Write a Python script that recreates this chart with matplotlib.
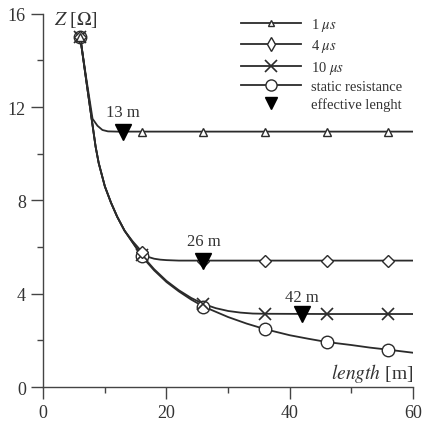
import matplotlib
matplotlib.use("Agg")
import matplotlib.pyplot as plt
from matplotlib.lines import Line2D
from matplotlib.ticker import MultipleLocator

plt.rcParams['font.family'] = ['Liberation Serif', 'DejaVu Serif']
plt.rcParams['mathtext.fontset'] = 'stix'

# ---- data ----
# static resistance curve
static_x = [6, 7, 7.8, 8.5, 9, 10, 11, 12, 13.2, 14.5, 16, 18, 20, 22, 24, 26, 30, 33, 36, 40, 43, 46, 50, 53, 56, 60]
static_y = [15, 13.1, 11.6, 10.3, 9.6, 8.6, 7.9, 7.3, 6.7, 6.2, 5.6, 5.0, 4.5, 4.1, 3.75, 3.45, 3.0, 2.72, 2.48, 2.22, 2.07, 1.93, 1.8, 1.69, 1.6, 1.47]
static_mx = [6, 16, 26, 36, 46, 56]
static_my = [15, 5.6, 3.43, 2.47, 1.93, 1.59]

# 1 us curve
us1_x = [6, 7, 8.0, 8.8, 9.6, 10.5, 12, 16, 26, 36, 46, 56, 60]
us1_y = [15, 13.2, 11.5, 11.2, 11.02, 10.96, 10.95, 10.95, 10.95, 10.95, 10.95, 10.95, 10.95]
us1_mx = [6, 16, 26, 36, 46, 56]
us1_my = [15, 10.95, 10.95, 10.95, 10.95, 10.95]

# 4 us curve
us4_x = [6, 7, 7.8, 8.5, 9, 10, 11, 12, 13.2, 14.5, 16, 17, 18, 19, 20, 22, 26, 36, 46, 56, 60]
us4_y = [15, 13.1, 11.6, 10.3, 9.6, 8.6, 7.9, 7.3, 6.7, 6.25, 5.8, 5.58, 5.5, 5.46, 5.44, 5.42, 5.42, 5.42, 5.42, 5.42, 5.42]
us4_mx = [6, 16, 26, 36, 46, 56]
us4_my = [15, 5.8, 5.42, 5.42, 5.42, 5.42]

# 10 us curve
us10_x = [6, 7, 7.8, 8.5, 9, 10, 11, 12, 13.2, 14.5, 16, 18, 20, 22, 24, 26, 28, 30, 32, 34, 36, 46, 56, 60]
us10_y = [15, 13.1, 11.6, 10.3, 9.6, 8.6, 7.9, 7.3, 6.7, 6.2, 5.65, 5.05, 4.55, 4.15, 3.82, 3.56, 3.38, 3.26, 3.19, 3.15, 3.14, 3.13, 3.13, 3.13]
us10_mx = [6, 16, 26, 36, 46, 56]
us10_my = [15, 5.65, 3.56, 3.13, 3.13, 3.13]

# effective length markers
eff_x = [13, 26, 42]
eff_y = [10.95, 5.42, 3.13]
eff_labels = ['13 m', '26 m', '42 m']
eff_label_y = [11.8, 6.28, 3.86]

legend_labels = [r'1 $\mu s$', r'4 $\mu s$', r'10 $\mu s$', 'static resistance', 'effective lenght']

# ---- figure ----
fig = plt.figure(figsize=(4.24, 4.27), dpi=100)
ax = fig.add_axes([0.102, 0.0913, 0.872, 0.874])

lc = '#2b2b2b'
lw = 1.3

ax.plot(static_x, static_y, color=lc, lw=lw, zorder=2)
ax.plot(us10_x, us10_y, color=lc, lw=lw, zorder=2)
ax.plot(us4_x, us4_y, color=lc, lw=lw, zorder=2)
ax.plot(us1_x, us1_y, color=lc, lw=lw, zorder=2)

mk_static = dict(marker='o', ms=9, mfc='white', mec=lc, mew=1.0, ls='none')
mk_us10 = dict(marker='x', ms=8.5, mec=lc, mew=1.2, ls='none')
mk_us4 = dict(marker='D', ms=6, mfc='white', mec=lc, mew=1.0, ls='none')
mk_us1 = dict(marker='^', ms=6, mfc='white', mec=lc, mew=1.0, ls='none')
mk_eff = dict(marker='v', ms=11, mfc='black', mec='black', ls='none')

ax.plot(static_mx, static_my, zorder=3, **mk_static)
ax.plot(us10_mx, us10_my, zorder=4, **mk_us10)
ax.plot(us4_mx, us4_my, zorder=4, **mk_us4)
ax.plot(us1_mx, us1_my, zorder=4, **mk_us1)
ax.plot(eff_x, eff_y, zorder=5, **mk_eff)

for xv, yv, lab in zip(eff_x, eff_label_y, eff_labels):
    ax.text(xv, yv, lab, ha='center', va='center', fontsize=12, color='#333333')

ax.set_xlim(0, 60)
ax.set_ylim(0, 16)
ax.xaxis.set_major_locator(MultipleLocator(20))
ax.xaxis.set_minor_locator(MultipleLocator(10))
ax.yaxis.set_major_locator(MultipleLocator(4))
ax.yaxis.set_minor_locator(MultipleLocator(2))
for s in ['top', 'right']:
    ax.spines[s].set_visible(False)
for s in ['left', 'bottom']:
    ax.spines[s].set_color('#444444')
    ax.spines[s].set_linewidth(1.0)
ax.tick_params(which='major', direction='out', length=8.5, width=1.0, color='#444444',
               labelsize=13, labelcolor='#333333', pad=4)
ax.tick_params(which='minor', direction='out', length=4.3, width=1.0, color='#444444')

ax.text(0.028, 0.985, r'$Z$ [$\Omega$]', transform=ax.transAxes, fontsize=14,
        ha='left', va='center', color='#333333')
ax.text(1.0, 0.04, r'$length$ [m]', transform=ax.transAxes, fontsize=14,
        ha='right', va='center', color='#333333')

handles = [
    Line2D([], [], color=lc, lw=lw, marker='^', ms=5, mfc='white', mec=lc, mew=1.0),
    Line2D([], [], color=lc, lw=lw, marker='d', ms=7, mfc='white', mec=lc, mew=1.0),
    Line2D([], [], color=lc, lw=lw, marker='x', ms=8, mec=lc, mew=1.2),
    Line2D([], [], color=lc, lw=lw, marker='o', ms=8, mfc='white', mec=lc, mew=1.0),
    Line2D([], [], ls='none', marker='v', ms=8, mfc='black', mec='black'),
]
leg = ax.legend(handles, legend_labels, loc='upper left',
                bbox_to_anchor=(0.52, 1.01), bbox_transform=ax.transAxes,
                frameon=False, fontsize=10.5, handlelength=4.1, handletextpad=0.7,
                labelspacing=0.3, borderaxespad=0)
for t in leg.get_texts():
    t.set_color('#333333')

fig.savefig('out.png', dpi=100)
